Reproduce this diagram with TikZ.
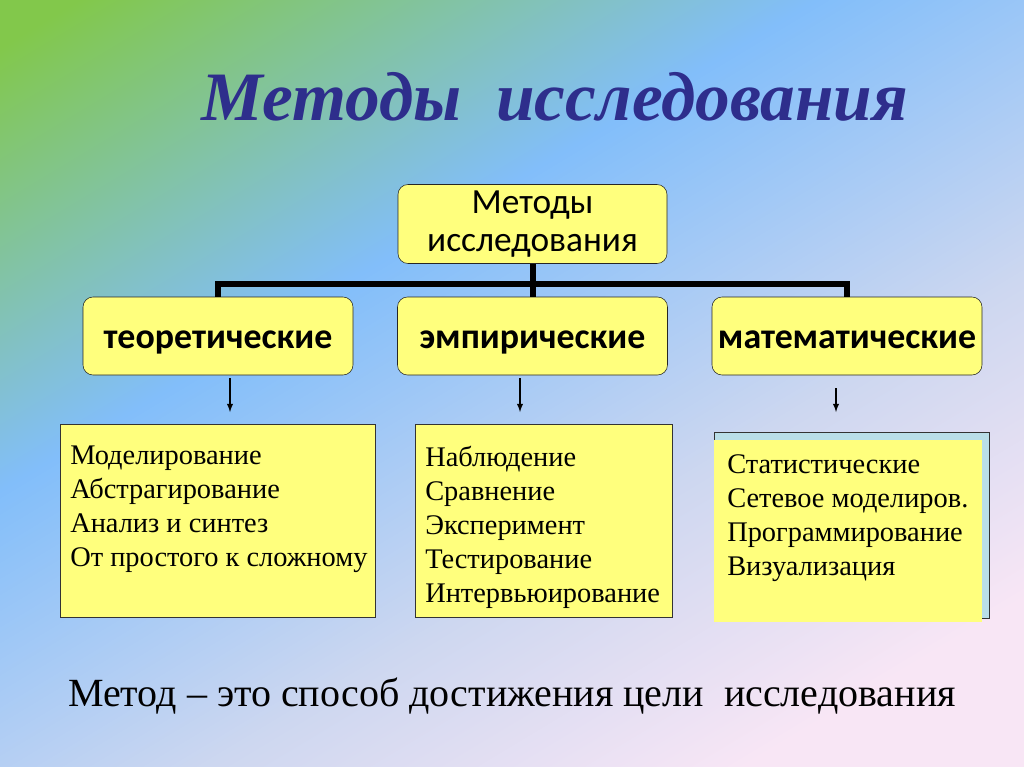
\documentclass[tikz,border=0pt]{standalone}
\usepackage{fontspec}
\setmainfont{Liberation Serif}
\newfontfamily\boxfont{Carlito}
\usetikzlibrary{positioning,arrows}

\definecolor{titleblue}{RGB}{46,46,140}
\definecolor{boxyellow}{RGB}{255,255,125}
\definecolor{shadowblue}{RGB}{185,222,232}
\definecolor{bgA}{RGB}{130,200,75}
\definecolor{bgB}{RGB}{130,190,250}
\definecolor{bgC}{RGB}{205,215,240}
\definecolor{bgD}{RGB}{248,230,245}
\pgfdeclarehorizontalshading{slidebg}{100bp}{color(0bp)=(bgA); color(18bp)=(bgA); color(40bp)=(bgB); color(60bp)=(bgC); color(76bp)=(bgD); color(100bp)=(bgD)}

\tikzset{
  rootbox/.style={draw=black!85, fill=boxyellow, rounded corners=7.5pt,
    minimum width=201.75pt, minimum height=59.25pt, align=center,
    font=\boxfont\fontsize{26.5}{29}\selectfont},
  catbox/.style={draw=black!85, fill=boxyellow, rounded corners=7.5pt,
    minimum width=202.5pt, minimum height=58.5pt, text height=21pt, text depth=2pt,
    font=\boxfont\bfseries\fontsize{26.9}{30}\selectfont},
  listbox/.style={draw=black!80, fill=boxyellow, inner sep=0pt},
  listtext/.style={anchor=north west, inner sep=0pt, align=left,
    font=\fontsize{21.3}{25.5}\selectfont},
  tree/.style={line width=4.5pt},
  arr/.style={-latex, line width=1.1pt}
}

\begin{document}
\begin{tikzpicture}[x=0.75pt, y=-0.75pt]

    % background
    \useasboundingbox (0,0) rectangle (1024,767);
    \shade[shading=slidebg, shading angle=-59] (0,0) rectangle (1024,767);

    % title
    \node[anchor=base, inner sep=0pt, text=titleblue,
      font=\bfseries\itshape\fontsize{52}{58}\selectfont] (title) at (555,120)
      {Методы\ \ исследования};

    % top level
    \node[rootbox] (root) at (532.5,224) {Методы\\исследования};

    % categories
    \node[catbox] (teor) at (218,336)   {теоретические};
    \node[catbox] (emp)  at (532.5,336) {эмпирические};
    \node[catbox] (math) at (847,336)   {математические};

    % tree
    \path (532.5,284) coordinate (bar);
    \draw[tree] (root.south) -- (emp.north);
    \draw[tree] (teor.north) |- (bar) -| (math.north);

    % lists
    \node[listbox, minimum width=236.25pt, minimum height=144.75pt] (teorlist) at (217.5,520.5) {};
    \node[listbox, minimum width=192.75pt, minimum height=144.75pt] (emplist) at (543.5,520.5) {};
    \node[listbox, fill=shadowblue, minimum width=206.25pt, minimum height=139.5pt] (mathshadow) at (851.5,525) {};
    \node[inner sep=0pt, fill=boxyellow, minimum width=201pt, minimum height=136.5pt] (mathlist) at (848,531) {};

    \node[listtext] (teortext) at (70,446)
      {Моделирование\\Абстрагирование\\Анализ и синтез\\От простого к сложному};
    \node[listtext] (emptext) at (425,446)
      {Наблюдение\\Сравнение\\Эксперимент\\Тестирование\\Интервьюирование};
    \node[listtext] (mathtext) at (727,454)
      {Статистические\\Сетевое моделиров.\\Программирование\\Визуализация};

    % arrows
    \path (230,378) coordinate (t1) (230,412) coordinate (t2);
    \path (520,378) coordinate (e1) (520,412) coordinate (e2);
    \path (836,388) coordinate (m1) (836,412) coordinate (m2);
    \draw[arr] (t1) -- (t2);
    \draw[arr] (e1) -- (e2);
    \draw[arr] (m1) -- (m2);

    % definition
    \node[anchor=base, inner sep=0pt, font=\fontsize{30}{34}\selectfont] (def) at (512,706)
      {Метод -- это способ достижения цели\ \ исследования};
  \end{tikzpicture}
\end{document}
